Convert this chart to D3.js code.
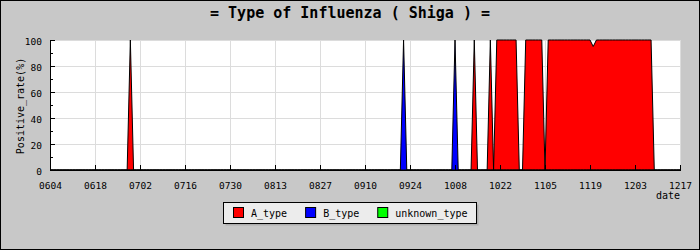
<!DOCTYPE html>
<html>
<head>
<meta charset="utf-8">
<script src="https://cdn.jsdelivr.net/npm/d3@7"></script>
<style>
body { margin: 0; background: #c8c8c8; }
svg { display: block; }
text { font-family: "DejaVu Sans Mono", monospace; fill: #000; }
.grid line { stroke: #dcdcdc; shape-rendering: crispEdges; }
.axis path, .axis line { stroke: #000; shape-rendering: crispEdges; }
</style>
</head>
<body>
<svg width="700" height="250"></svg>
<script>
const svgWidth = 700;
const svgHeight = 250;

// one value per day, starting 0604, rows of 14 days
const A_type = [
    0,0,0,0,0,0,0,0,0,0,0,0,0,0,            // 0604
    0,0,0,0,0,0,0,0,0,0,0,100,0,0,          // 0618
    0,0,0,0,0,0,0,0,0,0,0,0,0,0,            // 0702
    0,0,0,0,0,0,0,0,0,0,0,0,0,0,            // 0716
    0,0,0,0,0,0,0,0,0,0,0,0,0,0,            // 0730
    0,0,0,0,0,0,0,0,0,0,0,0,0,0,            // 0813
    0,0,0,0,0,0,0,0,0,0,0,0,0,0,            // 0827
    0,0,0,0,0,0,0,0,0,0,0,0,0,0,            // 0910
    0,0,0,0,0,0,0,0,0,0,0,0,0,0,            // 0924
    0,0,0,0,0,0,100,0,0,0,0,100,0,100,      // 1008
    100,100,100,100,100,100,0,0,100,100,100,100,100,100, // 1022
    0,100,100,100,100,100,100,100,100,100,100,100,100,100, // 1105
    100,95,100,100,100,100,100,100,100,100,100,100,100,100, // 1119
    100,100,100,100,100,100,0,0,0,0,0,0,0,0, // 1203
    0                                        // 1217
];
const B_type = [
    0,0,0,0,0,0,0,0,0,0,0,0,0,0,
    0,0,0,0,0,0,0,0,0,0,0,0,0,0,
    0,0,0,0,0,0,0,0,0,0,0,0,0,0,
    0,0,0,0,0,0,0,0,0,0,0,0,0,0,
    0,0,0,0,0,0,0,0,0,0,0,0,0,0,
    0,0,0,0,0,0,0,0,0,0,0,0,0,0,
    0,0,0,0,0,0,0,0,0,0,0,0,0,0,
    0,0,0,0,0,0,0,0,0,0,0,0,100,0,
    0,0,0,0,0,0,0,0,0,0,0,0,0,0,
    100,0,0,0,0,0,0,0,0,0,0,0,0,0,
    0,0,0,0,0,0,0,0,0,0,0,0,0,0,
    0,0,0,0,0,0,0,0,0,0,0,0,0,0,
    0,0,0,0,0,0,0,0,0,0,0,0,0,0,
    0,0,0,0,0,0,0,0,0,0,0,0,0,0,
    0
];
const unknown_type = A_type.map(() => 0); // no unknown samples in the period

const tickLabels = ["0604","0618","0702","0716","0730","0813","0827","0910",
    "0924","1008","1022","1105","1119","1203","1217"];
const seriesNames = ["A_type", "B_type", "unknown_type"];
const seriesColors = ["#ff0000", "#0000ff", "#00ff00"];
const yTicks = [0, 20, 40, 60, 80, 100];
const yMinorTicks = [10, 30, 50, 70, 90];

const plotLeft = 50, plotRight = 680, plotTop = 40, plotBottom = 170;

const svg = d3.select("svg");

svg.append("rect")
    .attr("x", 0.5).attr("y", 0.5)
    .attr("width", svgWidth - 1).attr("height", svgHeight - 1)
    .attr("fill", "#c8c8c8").attr("stroke", "#000");

svg.append("text")
    .attr("x", 350).attr("y", 17.5)
    .attr("text-anchor", "middle")
    .style("font-size", "15px").style("font-weight", "bold")
    .text("= Type of Influenza ( Shiga ) =");

const x = d3.scaleLinear().domain([0, (tickLabels.length - 1) * 14]).range([plotLeft, plotRight]);
const y = d3.scaleLinear().domain([0, 100]).range([plotBottom, plotTop]);
const xTickValues = tickLabels.map((d, i) => i * 14);

svg.append("rect")
    .attr("x", plotLeft).attr("y", plotTop)
    .attr("width", plotRight - plotLeft).attr("height", plotBottom - plotTop)
    .attr("fill", "#fff");

// grid
const grid = svg.append("g").attr("class", "grid");
grid.selectAll(".h").data(yTicks.slice(1)).enter().append("line")
    .attr("x1", plotLeft).attr("x2", plotRight)
    .attr("y1", d => y(d)).attr("y2", d => y(d));
grid.selectAll(".v").data(xTickValues.slice(1)).enter().append("line")
    .attr("x1", d => x(d)).attr("x2", d => x(d))
    .attr("y1", plotTop).attr("y2", plotBottom);

// areas
const allSeries = [A_type, B_type, unknown_type];
const area = d3.area()
    .x((d, i) => x(i))
    .y0(y(0))
    .y1(d => y(d));
const line = d3.line()
    .x((d, i) => x(i))
    .y(d => y(d));

allSeries.forEach((s, k) => {
    svg.append("path")
        .datum(s)
        .attr("d", area)
        .attr("fill", seriesColors[k]);
    svg.append("path")
        .datum(s)
        .attr("d", line)
        .attr("fill", "none")
        .attr("stroke", "#000")
        .attr("stroke-width", 1);
});

// y axis
const yAxis = svg.append("g").attr("class", "axis")
    .attr("transform", `translate(${plotLeft},0)`)
    .call(d3.axisLeft(y).tickValues(yTicks).tickSizeInner(-5).tickSizeOuter(0).tickPadding(8));
yAxis.selectAll("text").style("font-size", "9.5px").attr("dy", "0.5em");
svg.append("g").attr("class", "axis")
    .attr("transform", `translate(${plotLeft},0)`)
    .call(d3.axisLeft(y).tickValues(yMinorTicks).tickSizeInner(-3).tickSizeOuter(0).tickFormat(""))
    .select(".domain").remove();

// x axis
const xAxis = svg.append("g").attr("class", "axis")
    .attr("transform", `translate(0,${plotBottom})`)
    .call(d3.axisBottom(x).tickValues(xTickValues).tickFormat((d, i) => tickLabels[i])
        .tickSizeInner(-5).tickSizeOuter(0).tickPadding(12));
xAxis.selectAll("text").style("font-size", "9.5px");

svg.selectAll(".axis .tick text").attr("fill", "#000");

svg.append("text")
    .attr("x", plotRight).attr("y", 199)
    .attr("text-anchor", "end")
    .style("font-size", "10px")
    .text("date");

svg.append("text")
    .attr("transform", "translate(23.5,106) rotate(-90)")
    .attr("text-anchor", "middle")
    .style("font-size", "10px")
    .text("Positive_rate(%)");

// legend
const legend = svg.append("g");
legend.append("rect")
    .attr("x", 225.5).attr("y", 204.5)
    .attr("width", 253).attr("height", 21)
    .attr("fill", "#adadad");
legend.append("rect")
    .attr("x", 223.5).attr("y", 202.5)
    .attr("width", 253).attr("height", 21)
    .attr("fill", "#ececec").attr("stroke", "#000");

let lx = 233.5;
seriesNames.forEach((name, k) => {
    legend.append("rect")
        .attr("x", lx).attr("y", 207.5)
        .attr("width", 10).attr("height", 10)
        .attr("fill", seriesColors[k]).attr("stroke", "#000");
    const t = legend.append("text")
        .attr("x", lx + 17.5).attr("y", 216.5)
        .style("font-size", "10px")
        .text(name);
    lx += 17.5 + t.node().getComputedTextLength() + 18.5;
});
</script>
</body>
</html>
